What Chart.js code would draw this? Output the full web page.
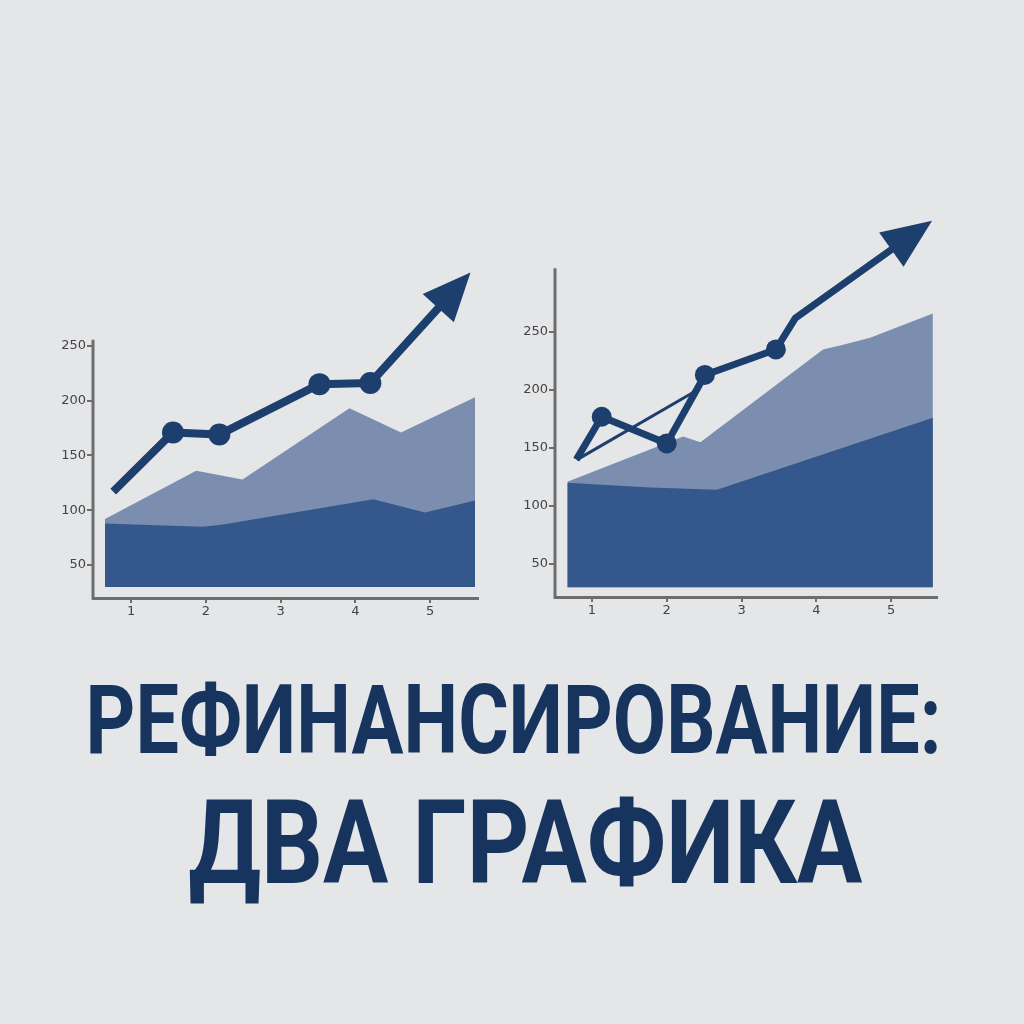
<!DOCTYPE html>
<html lang="ru">
<head>
<meta charset="UTF-8">
<title>Рефинансирование: два графика</title>
<script src="https://cdn.jsdelivr.net/npm/chart.js"></script>
<style>
  html, body { margin: 0; padding: 0; }
  body { width: 1024px; height: 1024px; background: #e5e6e8; position: relative; overflow: hidden; }
  canvas { position: absolute; }
  #leftChart { left: 0; top: 260px; }
  #rightChart { left: 500px; top: 200px; }
  .title { position: absolute; left: -500px; width: 2024px; text-align: center; line-height: 1;
           font-family: Roboto, "Noto Sans", sans-serif; font-weight: 700; color: #16345e; white-space: nowrap; }
  .title span { display: inline-block; transform-origin: center center; }
  #t1 { top: 672px; font-size: 96px; }
  #t2 { top: 785px; font-size: 117px; }
</style>
</head>
<body>
<canvas id="leftChart" width="500" height="380"></canvas>
<canvas id="rightChart" width="524" height="440"></canvas>
<div class="title" id="t1"><span>РЕФИНАНСИРОВАНИЕ:</span></div>
<div class="title" id="t2"><span>ДВА ГРАФИКА</span></div>

<script>
// tick labels (same on both charts)
const yTickValues = [50, 100, 150, 200, 250];
const yTickLabels = ['50', '100', '150', '200', '250'];
const xTickValues = [1, 2, 3, 4, 5];
const xTickLabels = ['1', '2', '3', '4', '5'];

// left chart
const leftLightX = [0.65, 1.87, 2.49, 3.92, 4.61, 5.60];
const leftLightY = [92, 136, 128, 193, 171, 203];
const leftDarkX  = [0.65, 1.96, 2.23, 4.24, 4.93, 5.60];
const leftDarkY  = [88, 85, 87, 110, 98, 109];
const leftLineX  = [0.76, 1.56, 2.18, 3.52, 4.20, 5.45];
const leftLineY  = [117, 171, 169, 215, 216, 310];
const leftBase = 30;

// right chart
const rightLightX = [0.67, 2.22, 2.45, 4.09, 4.36, 4.72, 5.56];
const rightLightY = [121, 160, 155, 235, 239, 245, 266];
const rightDarkX  = [0.67, 1.78, 2.67, 5.56];
const rightDarkY  = [120, 116, 114, 176];
const rightLineX  = [0.79, 1.13, 2.00, 2.51, 3.46, 3.72, 5.44];
const rightLineY  = [140, 177, 154, 213, 235, 262, 341];
const rightThinX  = [0.80, 2.41];
const rightThinY  = [140, 200];
const rightBase = 30;

const LINE = '#1d3f6d';
const DARK = '#34588b';
const LIGHT = '#7b8eb0';
const AXIS = '#6d6d6d';

function pts(xs, ys) {
  return xs.map((x, i) => ({ x: x, y: ys[i] }));
}

// arrow head at the end of a line + y axis line that stops below the top
const extras = {
  id: 'extras',
  afterDatasetsDraw(chart) {
    const ctx = chart.ctx;
    chart.data.datasets.forEach((ds, i) => {
      if (!ds.arrow) return;
      const pts = chart.getDatasetMeta(i).data;
      const a = pts[pts.length - 2], b = pts[pts.length - 1];
      const dx = b.x - a.x, dy = b.y - a.y, d = Math.hypot(dx, dy);
      const ux = dx / d, uy = dy / d;
      const tipX = b.x + ux * 10, tipY = b.y + uy * 10;
      const bx = tipX - ux * ds.arrow.len, by = tipY - uy * ds.arrow.len;
      const w = ds.arrow.half;
      ctx.save();
      ctx.fillStyle = ds.borderColor;
      ctx.beginPath();
      ctx.moveTo(tipX, tipY);
      ctx.lineTo(bx - uy * w, by + ux * w);
      ctx.lineTo(bx + uy * w, by - ux * w);
      ctx.closePath();
      ctx.fill();
      ctx.restore();
    });
    const y = chart.scales.y, area = chart.chartArea;
    const top = y.getPixelForValue(chart.options.axisTop);
    ctx.save();
    ctx.strokeStyle = AXIS;
    ctx.lineWidth = 3;
    ctx.beginPath();
    ctx.moveTo(area.left, top);
    ctx.lineTo(area.left, area.bottom + 1.5);
    ctx.stroke();
    ctx.restore();
  }
};

function makeChart(id, c) {
  const datasets = [
    {
      type: 'line', data: pts(c.lineX, c.lineY), order: 0,
      borderColor: LINE, borderWidth: c.lineWidth, borderCapStyle: 'butt', borderJoinStyle: 'round',
      pointRadius: c.radii, pointBackgroundColor: LINE, pointBorderWidth: 0, pointHoverRadius: c.radii,
      fill: false, tension: 0, clip: false, arrow: c.arrow
    }
  ];
  if (c.thinX) {
    datasets.push({
      type: 'line', data: pts(c.thinX, c.thinY), order: 0,
      borderColor: LINE, borderWidth: 3, pointRadius: 0, fill: false, tension: 0, clip: false
    });
  }
  datasets.push(
    {
      type: 'line', data: pts(c.darkX, c.darkY), order: 1,
      borderWidth: 0, pointRadius: 0, backgroundColor: DARK, fill: { value: c.base }, tension: 0
    },
    {
      type: 'line', data: pts(c.lightX, c.lightY), order: 2,
      borderWidth: 0, pointRadius: 0, backgroundColor: LIGHT, fill: { value: c.base }, tension: 0
    }
  );

  return new Chart(document.getElementById(id), {
    type: 'line',
    data: { datasets: datasets },
    plugins: [extras],
    options: {
      responsive: false,
      animation: false,
      events: [],
      axisTop: c.axisTop,
      layout: { padding: c.padding },
      plugins: { legend: { display: false }, tooltip: { enabled: false } },
      scales: {
        x: {
          type: 'linear', min: c.xMin, max: c.xMax,
          afterBuildTicks: s => { s.ticks = xTickValues.map(v => ({ value: v })); },
          afterFit: s => { s.height = c.xHeight; },
          ticks: {
            autoSkip: false, padding: 1, color: '#444',
            font: { family: 'DejaVu Sans', size: 13 },
            callback: v => xTickLabels[xTickValues.indexOf(v)]
          },
          grid: { drawOnChartArea: false, tickLength: 5, color: AXIS, lineWidth: 2 },
          border: { display: true, color: AXIS, width: 3 }
        },
        y: {
          type: 'linear', min: c.yMin, max: c.yMax,
          afterBuildTicks: s => { s.ticks = yTickValues.map(v => ({ value: v })); },
          afterFit: s => { s.width = c.yWidth; },
          ticks: {
            autoSkip: false, padding: 1, color: '#444',
            font: { family: 'DejaVu Sans', size: 13 },
            callback: v => yTickLabels[yTickValues.indexOf(v)]
          },
          grid: { drawOnChartArea: false, tickLength: 6, color: AXIS, lineWidth: 2 },
          border: { display: false }
        }
      }
    }
  });
}

makeChart('leftChart', {
  lightX: leftLightX, lightY: leftLightY, darkX: leftDarkX, darkY: leftDarkY,
  lineX: leftLineX, lineY: leftLineY, base: leftBase,
  radii: [0, 11, 11, 11, 11, 0], lineWidth: 8, arrow: { len: 48, half: 21 },
  xMin: 0.49, xMax: 5.64, yMin: 20, yMax: 320, axisTop: 255.5,
  padding: { left: 0, top: 9, right: 22, bottom: 0 }, yWidth: 93, xHeight: 42
});

makeChart('rightChart', {
  lightX: rightLightX, lightY: rightLightY, darkX: rightDarkX, darkY: rightDarkY,
  lineX: rightLineX, lineY: rightLineY, thinX: rightThinX, thinY: rightThinY, base: rightBase,
  radii: [0, 10, 10, 10, 10, 0, 0], lineWidth: 7, arrow: { len: 50, half: 21 },
  xMin: 0.505, xMax: 5.615, yMin: 21.6, yMax: 350, axisTop: 305,
  padding: { left: 0, top: 16, right: 87, bottom: 0 }, yWidth: 55, xHeight: 43
});

// squeeze the title lines to the widths of the original
function fitTitle(id, target, shift) {
  const span = document.querySelector('#' + id + ' span');
  const w = span.getBoundingClientRect().width;
  span.style.transform = 'translateX(' + shift + 'px) scaleX(' + (target / w) + ')';
}
fitTitle('t1', 856, 1.5);
fitTitle('t2', 674, 13);
</script>
</body>
</html>
